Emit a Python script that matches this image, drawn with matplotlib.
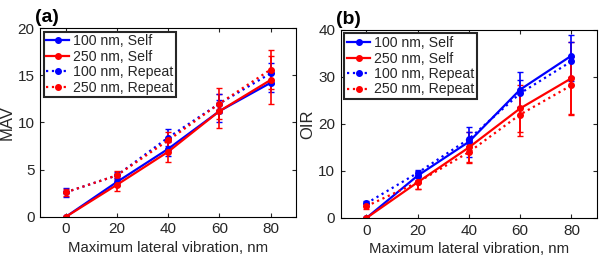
import numpy as np
import matplotlib
matplotlib.use("Agg")
import matplotlib.pyplot as plt
from matplotlib.lines import Line2D

plt.rcParams.update({
    'font.family': ['Liberation Sans', 'DejaVu Sans'],
    'font.size': 10,
    'xtick.direction': 'in',
    'ytick.direction': 'in',
    'xtick.top': True,
    'ytick.right': True,
    'text.color': '#262626',
    'xtick.color': '#262626',
    'ytick.color': '#262626',
    'axes.labelcolor': '#262626',
})

x = [0, 20, 40, 60, 80]
labels = ["100 nm, Self", "250 nm, Self", "100 nm, Repeat", "250 nm, Repeat"]

# (a) MAV
mav_100_self = [0, 3.7, 7.2, 11.2, 14.2]
mav_100_self_err = [0, 0.4, 0.7, 1.2, 1.0]
mav_250_self = [0, 3.4, 6.9, 11.2, 14.5]
mav_250_self_err = [0, 0.7, 1.1, 1.8, 2.5]
mav_100_rep = [2.6, 4.4, 8.4, 12.0, 15.2]
mav_100_rep_err = [0.5, 0.4, 0.9, 1.0, 1.1]
mav_250_rep = [2.6, 4.4, 8.1, 12.0, 15.6]
mav_250_rep_err = [0.4, 0.5, 0.9, 1.6, 2.1]

# (b) OIR
oir_100_self = [0, 9.0, 16.2, 27.3, 34.5]
oir_100_self_err = [0, 1.0, 3.2, 3.8, 4.5]
oir_250_self = [0, 7.6, 15.0, 23.3, 29.7]
oir_250_self_err = [0, 1.5, 3.2, 5.0, 7.8]
oir_100_rep = [3.1, 9.6, 16.8, 26.5, 33.3]
oir_100_rep_err = [0.5, 0.7, 1.5, 2.8, 4.2]
oir_250_rep = [2.5, 7.6, 14.0, 22.0, 28.2]
oir_250_rep_err = [0.5, 1.4, 2.4, 4.5, 6.0]

colors = ['#0000ff', '#ff0000', '#0000ff', '#ff0000']
styles = ['-', '-', ':', ':']

fig = plt.figure(figsize=(6.0, 2.62), dpi=100)
ax_a = fig.add_axes((0.0667, 0.172, 0.427, 0.721))
ax_b = fig.add_axes((0.568, 0.168, 0.427, 0.718))


def draw(ax, series, ylabel, ylim, yticks, tag):
    handles = []
    for (y, e), c, ls, lab in zip(series, colors, styles, labels):
        ax.errorbar(x, y, yerr=e, color=c, linestyle=ls, linewidth=1.6,
                    marker='o', markersize=4, capsize=2, elinewidth=1.2)
        handles.append(Line2D([], [], color=c, linestyle=ls, linewidth=1.6,
                              marker='o', markersize=4, label=lab))
    ax.set_xlim(-10, 90)
    ax.set_ylim(*ylim)
    ax.set_xticks(x)
    ax.set_yticks(yticks)
    ax.set_ylabel(ylabel, fontsize=12, labelpad=2)
    ax.set_xlabel("Maximum lateral vibration, nm", fontsize=10.8, labelpad=3)
    ax.tick_params(labelsize=11, length=3, pad=4)
    for s in ax.spines.values():
        s.set_linewidth(0.8)
    leg = ax.legend(handles=handles, loc='upper left', fontsize=10.2,
                    handlelength=1.6, borderpad=0.2, labelspacing=0.1,
                    handletextpad=0.3, borderaxespad=0.25, fancybox=False,
                    framealpha=1)
    leg.get_frame().set_edgecolor('#262626')
    leg.get_frame().set_linewidth(1.5)
    ax.text(-0.02, 1.01, tag, transform=ax.transAxes, fontsize=14,
            fontweight='bold', color='black', ha='left', va='bottom')


draw(ax_a, [(mav_100_self, mav_100_self_err), (mav_250_self, mav_250_self_err),
            (mav_100_rep, mav_100_rep_err), (mav_250_rep, mav_250_rep_err)],
     "MAV", (0, 20), [0, 5, 10, 15, 20], "(a)")
draw(ax_b, [(oir_100_self, oir_100_self_err), (oir_250_self, oir_250_self_err),
            (oir_100_rep, oir_100_rep_err), (oir_250_rep, oir_250_rep_err)],
     "OIR", (0, 40), [0, 10, 20, 30, 40], "(b)")

fig.savefig("out.png", dpi=100)
